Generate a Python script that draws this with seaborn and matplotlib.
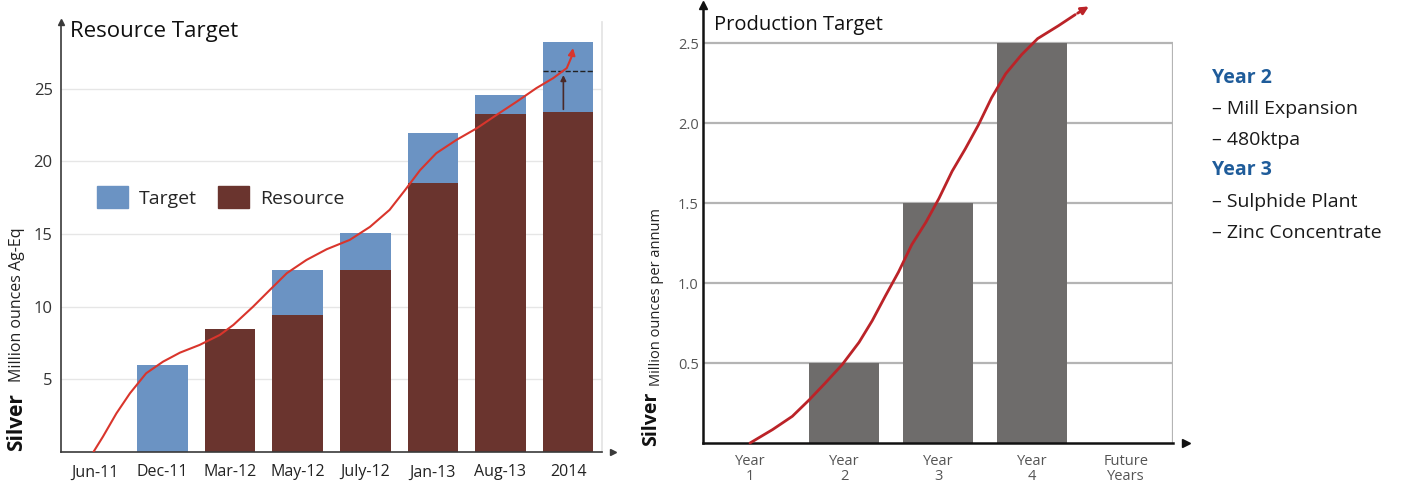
import pandas as pd
import seaborn as sns
import matplotlib.pyplot as plt
from matplotlib.patches import Patch

sns.set_theme(style='white')
plt.rcParams['font.family'] = ['Open Sans', 'DejaVu Sans']

# Resource chart data (million ounces Ag-Eq)
periods = ['Jun-11', 'Dec-11', 'Mar-12', 'May-12', 'July-12', 'Jan-13', 'Aug-13', '2014']
resource = [0, 0, 8.5, 9.4, 12.5, 18.5, 23.3, 23.4]
target = [0, 6.0, 8.5, 12.5, 15.1, 21.95, 24.6, 28.2]
target_mark = 26.24
res_yticks = [5, 10, 15, 20, 25]
res_trend_x = [-0.02, 0.12, 0.32, 0.52, 0.76, 1.01, 1.26, 1.55, 1.85, 2.05, 2.34, 2.59,
               2.84, 3.13, 3.43, 3.77, 4.07, 4.36, 4.59, 4.81, 5.05, 5.35, 5.65, 5.94,
               6.24, 6.53, 6.78, 6.98, 7.05, 7.08]
res_trend_y = [0.0, 1.05, 2.66, 4.04, 5.42, 6.22, 6.84, 7.37, 8.06, 8.75, 10.0, 11.16,
               12.31, 13.22, 13.96, 14.6, 15.5, 16.67, 18.04, 19.4, 20.57, 21.49, 22.29, 23.2,
               24.12, 25.05, 25.74, 26.43, 27.2, 28.0]

# Production chart data (million ounces per annum)
years = ['Year\n1', 'Year\n2', 'Year\n3', 'Year\n4', 'Future\nYears']
production = [0, 0.5, 1.5, 2.5, 0]
prod_yticks = [0.5, 1.0, 1.5, 2.0, 2.5]
prod_trend_x = [0.0, 0.24, 0.45, 0.63, 0.80, 0.98, 1.16, 1.30, 1.44, 1.58, 1.72, 1.87,
                2.01, 2.15, 2.29, 2.43, 2.57, 2.72, 2.89, 3.06, 3.28, 3.46, 3.63]
prod_trend_y = [0.0, 0.084, 0.167, 0.27, 0.375, 0.49, 0.63, 0.765, 0.92, 1.07, 1.24, 1.38,
                1.53, 1.70, 1.84, 1.99, 2.16, 2.31, 2.43, 2.53, 2.61, 2.68, 2.74]
notes = ['Year 2', '– Mill Expansion', '– 480ktpa', 'Year 3', '– Sulphide Plant', '– Zinc Concentrate']
note_heads = ['Year 2', 'Year 3']

blue = '#6b93c3'
brown = '#6a342e'
grey_bar = '#6e6c6b'

fig = plt.figure(figsize=(14.08, 4.88), dpi=100)

# ---------------- Resource Target ----------------
ax1 = fig.add_axes([0.0433, 0.0738, 0.3842, 0.881])
df1 = pd.DataFrame({'period': periods, 'resource': resource, 'target': target})
sns.barplot(data=df1, x='period', y='target', color=blue, saturation=1, width=0.75,
            linewidth=0, ax=ax1)
sns.barplot(data=df1, x='period', y='resource', color=brown, saturation=1, width=0.75,
            linewidth=0, ax=ax1)

ax1.set_xlim(-0.5, len(periods) - 0.5)
ax1.set_ylim(0, 29.6)
ax1.set_yticks(res_yticks)
ax1.yaxis.grid(True, color='#e6e6e6', lw=1)
ax1.set_axisbelow(True)
ax1.set_xlabel('')
ax1.set_ylabel('')
ax1.tick_params(axis='y', length=0, labelsize=12, labelcolor='#333333', pad=6)
ax1.tick_params(axis='x', which='major', length=0, labelsize=11.5, labelcolor='#222222', pad=9)
ax1.set_xticks([i + 0.5 for i in range(len(periods) - 1)], minor=True)
ax1.tick_params(axis='x', which='minor', length=5, width=1, color='#555555', direction='out')
for s in ['left', 'bottom']:
    ax1.spines[s].set_color('#3a3a3a')
    ax1.spines[s].set_linewidth(1.2)
ax1.spines['top'].set_visible(False)
ax1.spines['right'].set_color('#e4e4e4')
ax1.plot(1.02, 0, '>', color='#3a3a3a', ms=5, transform=ax1.transAxes, clip_on=False)
ax1.plot(0, 1.0, '^', color='#3a3a3a', ms=5, transform=ax1.transAxes, clip_on=False)

# dashed target mark and arrow in last bar
last = len(periods) - 1
ax1.hlines(target_mark, last - 0.375, last + 0.375, colors='#222222', linestyles='--', lw=1)
ax1.annotate('', xy=(last - 0.07, target_mark - 0.1), xytext=(last - 0.07, resource[-1]),
             arrowprops=dict(arrowstyle='-|>', color='#4a2a28', lw=1.2, mutation_scale=8))

# trend curve
ax1.plot(res_trend_x[:-1], res_trend_y[:-1], color='#d9352c', lw=1.5, zorder=5,
         solid_joinstyle='round')
ax1.annotate('', xy=(res_trend_x[-1], res_trend_y[-1]), xytext=(res_trend_x[-2], res_trend_y[-2]),
             arrowprops=dict(arrowstyle='-|>', color='#d9352c', lw=1.5, mutation_scale=10), zorder=5)

ax1.text(0.017, 0.977, 'Resource Target', transform=ax1.transAxes, fontsize=16,
         va='center', ha='left', color='#111111')
ax1.legend(handles=[Patch(color=blue, label='Target'), Patch(color=brown, label='Resource')],
           loc='center left', bbox_to_anchor=(0.066, 0.593), ncol=2, frameon=False,
           fontsize=14, handlelength=1.6, handleheight=1.3, handletextpad=0.55,
           columnspacing=1.1, borderpad=0, borderaxespad=0)

fig.text(17 / 1408, 1 - 451 / 488, 'Silver', rotation=90, ha='center', va='bottom',
         fontsize=15, fontweight='bold', color='#111111')
fig.text(17 / 1408, 1 - 382 / 488, 'Million ounces Ag-Eq', rotation=90, ha='center', va='bottom',
         fontsize=11.5, color='#222222')

# ---------------- Production Target ----------------
ax2 = fig.add_axes([0.4993, 0.0922, 0.3338, 0.8975])
df2 = pd.DataFrame({'year': years, 'production': production})
sns.barplot(data=df2, x='year', y='production', color=grey_bar, saturation=1, width=0.75,
            linewidth=0, ax=ax2)

ax2.set_xlim(-0.5, len(years) - 0.5)
ax2.set_ylim(0, 2.74)
ax2.set_yticks(prod_yticks)
ax2.set_yticklabels([f'{v:.1f}' for v in prod_yticks])
ax2.yaxis.grid(True, color='#b4b4b4', lw=1.6)
ax2.set_axisbelow(True)
ax2.vlines(len(years) - 0.5, 0, max(production), colors='#b4b4b4', lw=1.6, zorder=0)
ax2.set_xlabel('')
ax2.set_ylabel('')
ax2.tick_params(axis='y', length=0, labelsize=10.5, labelcolor='#555555', pad=3)
ax2.tick_params(axis='x', which='major', length=0, labelsize=10.5, labelcolor='#555555', pad=8)
for lbl in ax2.get_xticklabels():
    lbl.set_linespacing(0.95)
ax2.set_xticks([0.5, 2.5], minor=True)
ax2.tick_params(axis='x', which='minor', length=5, width=1, color='#333333', direction='out')
for s in ['left', 'bottom']:
    ax2.spines[s].set_color('#111111')
    ax2.spines[s].set_linewidth(1.8)
ax2.spines['top'].set_visible(False)
ax2.spines['right'].set_visible(False)
ax2.plot(1.028, 0, '>', color='#111111', ms=6, transform=ax2.transAxes, clip_on=False)
ax2.plot(0, 1.0, '^', color='#111111', ms=6, transform=ax2.transAxes, clip_on=False)

ax2.plot(prod_trend_x[:-1], prod_trend_y[:-1], color='#bb2328', lw=2, zorder=5,
         solid_joinstyle='round', clip_on=False)
ax2.annotate('', xy=(prod_trend_x[-1], prod_trend_y[-1]), xytext=(prod_trend_x[-2], prod_trend_y[-2]),
             arrowprops=dict(arrowstyle='-|>', color='#bb2328', lw=2, mutation_scale=11),
             annotation_clip=False, zorder=5)

ax2.text(0.023, 0.954, 'Production Target', transform=ax2.transAxes, fontsize=14.5,
         va='center', ha='left', color='#111111')

fig.text(651 / 1408, 1 - 446 / 488, 'Silver', rotation=90, ha='center', va='bottom',
         fontsize=14, fontweight='bold', color='#111111')
fig.text(656 / 1408, 1 - 386 / 488, 'Million ounces per annum', rotation=90, ha='center', va='bottom',
         fontsize=10.5, color='#222222')

note_y = [78, 109, 140, 170, 202, 233]
for txt, py in zip(notes, note_y):
    head = txt in note_heads
    fig.text(1212 / 1408, 1 - py / 488, txt, ha='left', va='center', fontsize=14,
             fontweight='bold' if head else 'normal',
             color='#1f5c9a' if head else '#1a1a1a')

plt.savefig('out.png', dpi=100)
